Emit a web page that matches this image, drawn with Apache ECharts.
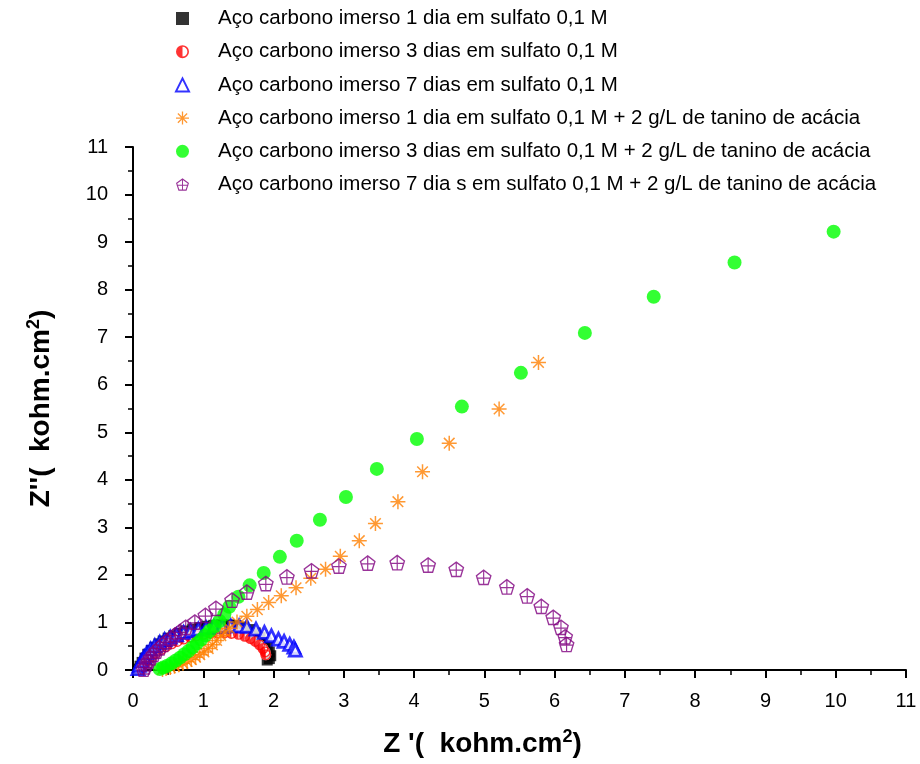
<!DOCTYPE html>
<html>
<head>
<meta charset="utf-8">
<script src="https://cdn.jsdelivr.net/npm/echarts@6/dist/echarts.min.js"></script>
<style>
html,body{margin:0;padding:0;background:#fff;}
#chart{width:920px;height:764px;}
</style>
</head>
<body>
<div id="chart"></div>
<script>
// ---- data (Z' , Z'') in kohm.cm2 ----
var names = [
  'Aço carbono imerso 1 dia em sulfato 0,1 M',
  'Aço carbono imerso 3 dias em sulfato 0,1 M',
  'Aço carbono imerso 7 dias em sulfato 0,1 M',
  'Aço carbono imerso 1 dia em sulfato 0,1 M + 2 g/L de tanino de acácia',
  'Aço carbono imerso 3 dias em sulfato 0,1 M + 2 g/L de tanino de acácia',
  'Aço carbono imerso 7 dia s em sulfato 0,1 M + 2 g/L de tanino de acácia'
];
var sulf1 = [[0.08,0.02],[0.10,0.08],[0.13,0.16],[0.17,0.25],[0.21,0.33],[0.26,0.41],[0.31,0.48],[0.37,0.55],[0.43,0.61],[0.50,0.67],[0.58,0.72],[0.66,0.77],[0.75,0.82],[0.85,0.86],[0.95,0.89],[1.05,0.92],[1.15,0.94],[1.26,0.95],[1.37,0.95],[1.47,0.93],[1.57,0.90],[1.66,0.85],[1.74,0.78],[1.81,0.69],[1.87,0.58],[1.91,0.48],[1.94,0.38],[1.96,0.30],[1.94,0.24],[1.91,0.21]];
var sulf3 = [[0.10,0.02],[0.13,0.08],[0.17,0.15],[0.22,0.22],[0.27,0.29],[0.33,0.36],[0.40,0.43],[0.47,0.49],[0.55,0.55],[0.63,0.60],[0.72,0.65],[0.81,0.69],[0.90,0.72],[1.00,0.75],[1.10,0.77],[1.20,0.78],[1.30,0.78],[1.40,0.77],[1.50,0.75],[1.59,0.71],[1.67,0.66],[1.74,0.60],[1.80,0.53],[1.85,0.45],[1.88,0.38],[1.89,0.32]];
var sulf7 = [[0.07,0.03],[0.09,0.10],[0.12,0.19],[0.16,0.28],[0.20,0.36],[0.25,0.44],[0.31,0.51],[0.38,0.58],[0.45,0.64],[0.53,0.69],[0.62,0.74],[0.72,0.79],[0.82,0.83],[0.93,0.86],[1.04,0.89],[1.15,0.91],[1.27,0.92],[1.39,0.93],[1.51,0.93],[1.62,0.92],[1.75,0.86],[1.87,0.79],[1.97,0.72],[2.07,0.65],[2.15,0.60],[2.23,0.54],[2.29,0.48],[2.31,0.42]];
var tan1 = [[0.42,0.01],[0.47,0.03],[0.53,0.05],[0.59,0.08],[0.65,0.11],[0.71,0.14],[0.77,0.18],[0.83,0.22],[0.89,0.27],[0.95,0.32],[1.01,0.38],[1.07,0.45],[1.13,0.53],[1.19,0.62],[1.25,0.72],[1.31,0.80],[1.37,0.88],[1.48,1.01],[1.62,1.13],[1.77,1.27],[1.93,1.42],[2.11,1.56],[2.32,1.73],[2.53,1.93],[2.74,2.12],[2.95,2.39],[3.22,2.72],[3.45,3.08],[3.77,3.54],[4.12,4.17],[4.50,4.77],[5.21,5.49],[5.77,6.47]];
var tan3 = [[0.38,0.02],[0.43,0.05],[0.49,0.09],[0.55,0.14],[0.61,0.20],[0.67,0.26],[0.73,0.33],[0.79,0.40],[0.85,0.48],[0.91,0.56],[0.97,0.64],[1.03,0.73],[1.09,0.82],[1.16,0.92],[1.23,1.03],[1.30,1.17],[1.37,1.33],[1.50,1.54],[1.66,1.78],[1.86,2.04],[2.09,2.38],[2.33,2.72],[2.66,3.16],[3.03,3.64],[3.47,4.23],[4.04,4.86],[4.68,5.54],[5.52,6.25],[6.43,7.09],[7.41,7.85],[8.56,8.57],[9.97,9.22]];
var tan7 = [[0.15,0.02],[0.17,0.07],[0.19,0.13],[0.22,0.19],[0.25,0.26],[0.29,0.33],[0.33,0.40],[0.38,0.47],[0.43,0.54],[0.48,0.60],[0.54,0.67],[0.60,0.74],[0.67,0.81],[0.75,0.90],[0.88,1.01],[1.03,1.15],[1.18,1.30],[1.41,1.47],[1.62,1.64],[1.89,1.82],[2.19,1.96],[2.54,2.09],[2.93,2.19],[3.34,2.25],[3.76,2.26],[4.20,2.21],[4.60,2.12],[4.99,1.95],[5.32,1.75],[5.61,1.56],[5.81,1.34],[5.98,1.11],[6.09,0.90],[6.15,0.70],[6.17,0.54]];

// ---- symbols ----
var halfCircle = 'path://M10,0 A10,10 0 1,1 10,20 A10,10 0 1,1 10,0 Z M10,2.5 A7.5,7.5 0 1,0 10,17.5 A7.5,7.5 0 1,0 10,2.5 Z M10,2.5 A7.5,7.5 0 0,0 10,17.5 Z';
var asterisk = 'path://M9,0 L11,0 L11,20 L9,20 Z M0,9 L20,9 L20,11 L0,11 Z M3.64,2.22 L17.78,16.36 L16.36,17.78 L2.22,3.64 Z M16.36,2.22 L17.78,3.64 L3.64,17.78 L2.22,16.36 Z';
var pentaCross = 'path://M10,0 L19.51,6.91 L15.88,18.09 L4.12,18.09 L0.49,6.91 Z M10,1.98 L2.37,7.52 L5.29,16.49 L14.71,16.49 L17.63,7.52 Z M9.3,1 L10.7,1 L10.7,17 L9.3,17 Z M1.5,9.3 L18.5,9.3 L18.5,10.7 L1.5,10.7 Z';

var FONT = 'Arial, "Liberation Sans", sans-serif';

var chart = echarts.init(document.getElementById('chart'), null, {renderer:'canvas'});
chart.setOption({
  animation: false,
  backgroundColor: '#ffffff',
  grid: {left: 133, right: 14, top: 147, bottom: 94, containLabel: false},
  legend: {
    data: names,
    orient: 'vertical',
    left: 175, top: 8, padding: 0,
    itemWidth: 13, itemHeight: 13, itemGap: 12.2,
    textStyle: {fontSize: 20.5, fontFamily: FONT, color: '#000', padding: [0, 0, 0, 24]},
    selectedMode: false
  },
  xAxis: {
    type: 'value', min: 0, max: 11, interval: 1,
    name: "Z '(  kohm.cm{s|2})",
    nameLocation: 'middle', nameGap: 58,
    nameTextStyle: {fontSize: 28, fontWeight: 'bold', fontFamily: FONT, color: '#000', padding: [0, 74, 0, 0],
      rich: {s: {fontSize: 18, fontWeight: 'bold', fontFamily: FONT, color:'#000', padding: [0,0,14,0]}}},
    axisLine: {lineStyle: {color: '#000', width: 2}},
    axisTick: {length: 8, lineStyle: {color: '#000', width: 2}},
    minorTick: {show: true, splitNumber: 2, length: 5, lineStyle: {color: '#000', width: 1.5}},
    axisLabel: {fontSize: 20, fontFamily: FONT, color: '#000', margin: 21},
    splitLine: {show: false}
  },
  yAxis: {
    type: 'value', min: 0, max: 11, interval: 1,
    name: "Z''(  kohm.cm{s|2})",
    nameLocation: 'middle', nameGap: 76, nameRotate: 90,
    nameTextStyle: {fontSize: 28, fontWeight: 'bold', fontFamily: FONT, color: '#000',
      rich: {s: {fontSize: 18, fontWeight: 'bold', fontFamily: FONT, color:'#000', padding: [0,0,14,0]}}},
    axisLine: {lineStyle: {color: '#000', width: 2}},
    axisTick: {length: 8, lineStyle: {color: '#000', width: 2}},
    minorTick: {show: true, splitNumber: 2, length: 5, lineStyle: {color: '#000', width: 1.5}},
    axisLabel: {fontSize: 20, fontFamily: FONT, color: '#000', margin: 25},
    splitLine: {show: false}
  },
  series: [
    {name: names[0], type: 'scatter', data: sulf1, symbol: 'rect', symbolSize: 11,
     itemStyle: {color: '#000000'}},
    {name: 'bg3', type: 'scatter', data: sulf3, symbol: 'circle', symbolSize: 11,
     itemStyle: {color: '#ffffff'}, silent: true},
    {name: names[1], type: 'scatter', data: sulf3, symbol: halfCircle, symbolSize: 11,
     itemStyle: {color: '#ff0000'}},
    {name: names[2], type: 'scatter', data: sulf7, symbol: 'triangle', symbolSize: 12,
     itemStyle: {color: '#ffffff', borderColor: '#0000ff', borderWidth: 2.8}},
    {name: names[3], type: 'scatter', data: tan1, symbol: asterisk, symbolSize: 15,
     itemStyle: {color: '#ff8000'}},
    {name: names[4], type: 'scatter', data: tan3, symbol: 'circle', symbolSize: 14,
     itemStyle: {color: '#00ff00'}},
    {name: names[5], type: 'scatter', data: tan7, symbol: pentaCross, symbolSize: 16,
     itemStyle: {color: '#800080'}}
  ]
});
</script>
</body>
</html>
